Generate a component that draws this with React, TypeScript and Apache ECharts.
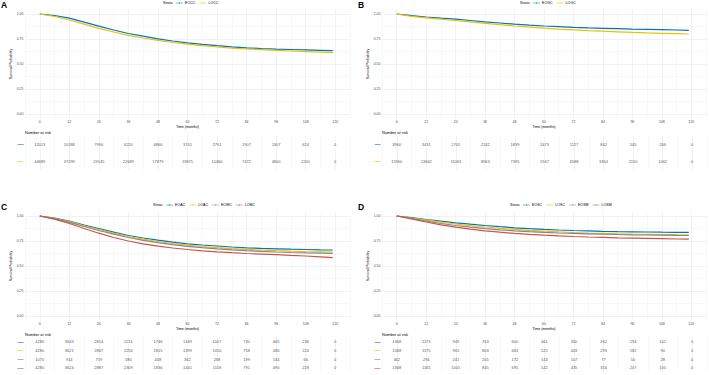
import React, { useEffect, useRef } from "react";
import * as echarts from "echarts";

const FONT = "'Liberation Sans', Arial, Helvetica, sans-serif";
const BLUE = "#0073C2";
const YELLOW = "#EFC000";
const GRAY = "#868686";
const RED = "#CD534C";
const MAJOR = "#e9e9e9";
const MINOR = "#f3f3f3";

// Time points (months) at which the survival estimates are listed
const survTimes = [0, 6, 12, 18, 24, 30, 36, 42, 48, 54, 60, 66, 72, 78, 84, 90, 96, 102, 108, 114, 119];
// Time points of the number-at-risk table
const riskTimes = [0, 12, 24, 36, 48, 60, 72, 84, 96, 108, 120];

// ---- Panel A
const strataA = ["EOCC", "LOCC"];
const survA1 = [1, 0.985, 0.958, 0.918, 0.878, 0.84, 0.805, 0.778, 0.752, 0.73, 0.712, 0.696, 0.683, 0.671, 0.662, 0.655, 0.649, 0.645, 0.641, 0.637, 0.633];
const survA2 = [1, 0.975, 0.94, 0.898, 0.857, 0.82, 0.787, 0.76, 0.736, 0.715, 0.698, 0.683, 0.67, 0.659, 0.65, 0.643, 0.636, 0.63, 0.624, 0.618, 0.613];
const riskA1 = [12013, 10268, 7990, 6220, 4866, 3741, 2791, 1907, 1307, 624, 0];
const riskA2 = [44689, 37299, 29145, 22689, 17879, 13875, 10460, 7472, 4800, 2310, 0];

// ---- Panel B
const strataB = ["EOGC", "LOGC"];
const survB1 = [1, 0.983, 0.97, 0.958, 0.948, 0.935, 0.922, 0.91, 0.898, 0.888, 0.88, 0.873, 0.866, 0.861, 0.857, 0.853, 0.849, 0.846, 0.843, 0.84, 0.836];
const survB2 = [1, 0.977, 0.962, 0.948, 0.935, 0.921, 0.907, 0.893, 0.88, 0.868, 0.858, 0.849, 0.841, 0.834, 0.828, 0.822, 0.816, 0.811, 0.807, 0.803, 0.8];
const riskB1 = [3960, 3431, 2705, 2242, 1839, 1473, 1127, 842, 545, 266, 0];
const riskB2 = [15960, 13662, 11063, 8963, 7395, 5947, 4588, 3364, 2150, 1062, 0];

// ---- Panel C
const strataC = ["EOAC", "LOAC", "EOMC", "LOMC"];
const survC1 = [1, 0.98, 0.95, 0.91, 0.875, 0.838, 0.805, 0.78, 0.758, 0.738, 0.722, 0.71, 0.7, 0.69, 0.682, 0.676, 0.672, 0.668, 0.665, 0.662, 0.66];
const survC2 = [1, 0.975, 0.943, 0.902, 0.865, 0.828, 0.795, 0.768, 0.745, 0.725, 0.708, 0.695, 0.684, 0.674, 0.666, 0.659, 0.653, 0.648, 0.644, 0.641, 0.638];
const survC3 = [1, 0.972, 0.937, 0.895, 0.855, 0.818, 0.785, 0.757, 0.733, 0.713, 0.697, 0.683, 0.672, 0.662, 0.653, 0.646, 0.64, 0.635, 0.631, 0.628, 0.625];
const survC4 = [1, 0.968, 0.925, 0.875, 0.828, 0.785, 0.75, 0.722, 0.698, 0.68, 0.665, 0.652, 0.642, 0.633, 0.625, 0.619, 0.613, 0.606, 0.6, 0.592, 0.583];
const riskC1 = [4280, 3643, 2814, 2211, 1746, 1349, 1007, 730, 465, 236, 0];
const riskC2 = [4280, 3621, 2867, 2256, 1815, 1399, 1050, 758, 480, 224, 0];
const riskC3 = [1070, 914, 719, 580, 458, 362, 268, 199, 134, 66, 0];
const riskC4 = [4280, 3624, 2887, 2309, 1836, 1441, 1118, 791, 490, 228, 0];

// ---- Panel D
const strataD = ["EOSC", "LOSC", "EOSM", "LOSM"];
const survD1 = [1, 0.985, 0.965, 0.948, 0.932, 0.918, 0.905, 0.893, 0.882, 0.873, 0.866, 0.86, 0.855, 0.851, 0.847, 0.844, 0.842, 0.84, 0.838, 0.837, 0.836];
const survD2 = [1, 0.98, 0.958, 0.938, 0.92, 0.904, 0.89, 0.877, 0.866, 0.856, 0.848, 0.841, 0.835, 0.83, 0.826, 0.822, 0.819, 0.817, 0.815, 0.813, 0.812];
const survD3 = [1, 0.975, 0.948, 0.925, 0.905, 0.888, 0.874, 0.862, 0.852, 0.843, 0.836, 0.83, 0.826, 0.822, 0.818, 0.815, 0.812, 0.81, 0.808, 0.806, 0.805];
const survD4 = [1, 0.972, 0.94, 0.912, 0.888, 0.868, 0.852, 0.838, 0.826, 0.816, 0.808, 0.801, 0.795, 0.79, 0.786, 0.782, 0.779, 0.776, 0.773, 0.77, 0.768];
const riskD1 = [1368, 1173, 949, 763, 600, 461, 350, 262, 194, 101, 0];
const riskD2 = [1368, 1175, 965, 803, 663, 525, 403, 293, 182, 90, 0];
const riskD3 = [342, 294, 241, 205, 172, 143, 107, 77, 50, 28, 0];
const riskD4 = [1368, 1165, 1005, 845, 695, 542, 435, 316, 207, 105, 0];

type Panel = {
  tag: string;
  x0: number;
  y0: number;
  names: string[];
  colors: string[];
  surv: number[][];
  risk: number[][];
};

const panels: Panel[] = [
  { tag: "A", x0: 25, y0: 9, names: strataA, colors: [BLUE, YELLOW], surv: [survA1, survA2], risk: [riskA1, riskA2] },
  { tag: "B", x0: 382, y0: 9, names: strataB, colors: [BLUE, YELLOW], surv: [survB1, survB2], risk: [riskB1, riskB2] },
  { tag: "C", x0: 25, y0: 211, names: strataC, colors: [BLUE, YELLOW, GRAY, RED], surv: [survC1, survC2, survC3, survC4], risk: [riskC1, riskC2, riskC3, riskC4] },
  { tag: "D", x0: 382, y0: 211, names: strataD, colors: [BLUE, YELLOW, GRAY, RED], surv: [survD1, survD2, survD3, survD4], risk: [riskD1, riskD2, riskD3, riskD4] },
];

const PLOT_W = 325;
const PLOT_H = 110;
const TABLE_H = 34.5;

// y split lines every 0.025 from -0.05: majors at 0, 0.25, ... minors at 0.125, 0.375, ...
const ySplitColors = Array.from({ length: 10 }, (_, i) => (i === 2 ? MAJOR : i === 7 ? MINOR : "rgba(0,0,0,0)"));

function buildOption() {
  const grid: any[] = [];
  const xAxis: any[] = [];
  const yAxis: any[] = [];
  const series: any[] = [];
  const title: any[] = [];
  const legend: any[] = [];

  panels.forEach((p, pi) => {
    const plotIdx = pi * 2;
    const tableIdx = pi * 2 + 1;
    const tableTop = p.y0 + 126.5;

    grid.push({ left: p.x0, top: p.y0, width: PLOT_W, height: PLOT_H });
    grid.push({ left: p.x0, top: tableTop, width: PLOT_W, height: TABLE_H });

    const xBase = {
      type: "value",
      min: -6,
      max: 126,
      interval: 6,
      axisLine: { show: false },
      axisTick: { show: false },
      splitLine: { show: true, lineStyle: { color: [MINOR, MAJOR], width: 0.6 } },
    };
    xAxis.push({
      ...xBase,
      gridIndex: plotIdx,
      axisLabel: {
        fontSize: 3.5,
        fontFamily: FONT,
        color: "#4d4d4d",
        margin: 1.2,
        showMinLabel: true,
        showMaxLabel: true,
        formatter: (v: number) => (v >= 0 && v <= 120 && v % 12 === 0 ? String(v) : ""),
      },
      name: "Time (months)",
      nameLocation: "middle",
      nameGap: 4.5,
      nameTextStyle: { fontSize: 3.6, fontFamily: FONT, color: "#000" },
    });
    xAxis.push({ ...xBase, gridIndex: tableIdx, axisLabel: { show: false } });

    yAxis.push({
      gridIndex: plotIdx,
      type: "value",
      min: -0.05,
      max: 1.05,
      interval: 0.025,
      axisLine: { show: false },
      axisTick: { show: false },
      splitLine: { show: true, lineStyle: { color: ySplitColors, width: 0.6 } },
      axisLabel: {
        fontSize: 3.5,
        fontFamily: FONT,
        color: "#4d4d4d",
        margin: 1.5,
        showMinLabel: true,
        showMaxLabel: true,
        formatter: (v: number) => {
          const k = Math.round(v * 1000);
          return k >= 0 && k <= 1000 && k % 250 === 0 ? (k / 1000).toFixed(2) : "";
        },
      },
      name: "Survival Probability",
      nameLocation: "middle",
      nameRotate: 90,
      nameGap: 6.5,
      nameTextStyle: { fontSize: 3.6, fontFamily: FONT, color: "#000" },
    });
    yAxis.push({
      gridIndex: tableIdx,
      type: "category",
      inverse: true,
      data: p.names,
      axisLine: { show: false },
      axisTick: { show: false },
      splitLine: { show: false },
      axisLabel: {
        margin: 1.5,
        fontSize: 6,
        fontWeight: "bold",
        fontFamily: FONT,
        formatter: () => "\u2014",
        color: (value: string, index: number) => {
          const k = p.names.indexOf(value);
          return p.colors[k >= 0 ? k : index] || "#000";
        },
      },
    });

    p.names.forEach((name, si) => {
      series.push({
        name,
        type: "line",
        xAxisIndex: plotIdx,
        yAxisIndex: plotIdx,
        data: survTimes.map((t, j) => [t, p.surv[si][j]]),
        showSymbol: false,
        symbol: "none",
        color: p.colors[si],
        lineStyle: { color: p.colors[si], width: 1.2 },
        z: 3,
      });
      series.push({
        type: "scatter",
        xAxisIndex: tableIdx,
        yAxisIndex: tableIdx,
        data: riskTimes.map((t, j) => [t, name, p.risk[si][j]]),
        symbolSize: 0.1,
        itemStyle: { color: "rgba(0,0,0,0)" },
        silent: true,
        label: {
          show: true,
          position: [0, 0],
          align: "center",
          verticalAlign: "middle",
          fontSize: 4,
          fontFamily: FONT,
          color: "#1a1a1a",
          textBorderWidth: 0,
          formatter: (q: any) => String(q.data[2]),
        },
      });
    });

    title.push({
      text: p.tag,
      left: p.x0 - 24,
      top: p.y0 - 9,
      padding: 0,
      textStyle: { fontSize: 8.5, fontWeight: "bold", fontFamily: FONT, color: "#000" },
    });
    title.push({
      text: "Number at risk",
      left: p.x0,
      top: p.y0 + 121,
      padding: 0,
      textStyle: { fontSize: 4, fontWeight: "normal", fontFamily: FONT, color: "#000" },
    });

    const twoRows = p.names.length === 2;
    const strataLeft = p.x0 + (twoRows ? 138 : 128);
    title.push({
      text: "Strata",
      left: strataLeft,
      top: p.y0 - 8,
      padding: 0,
      textStyle: { fontSize: 3.6, fontWeight: "normal", fontFamily: FONT, color: "#000" },
    });
    legend.push({
      data: p.names,
      left: strataLeft + 13,
      top: p.y0 - 8,
      padding: 0,
      itemWidth: 7,
      itemHeight: 3,
      itemGap: 4,
      icon: "path://M0,1.3H10V1.9H0Z M4.7,0H5.3V3.2H4.7Z",
      selectedMode: false,
      textStyle: { fontSize: 3.6, fontFamily: FONT, color: "#000", padding: [0, 0, 0, -3] },
    });
  });

  return {
    animation: false,
    backgroundColor: "#ffffff",
    textStyle: { fontFamily: FONT },
    title,
    legend,
    grid,
    xAxis,
    yAxis,
    series,
  };
}

export default function App() {
  const ref = useRef<HTMLDivElement>(null);
  useEffect(() => {
    if (!ref.current) return;
    const chart = echarts.init(ref.current, undefined, { renderer: "svg" });
    chart.setOption(buildOption() as any);
    return () => chart.dispose();
  }, []);
  return (
    <div
      ref={ref}
      style={{ position: "absolute", left: 0, top: 0, width: 709, height: 375, background: "#fff" }}
    />
  );
}
